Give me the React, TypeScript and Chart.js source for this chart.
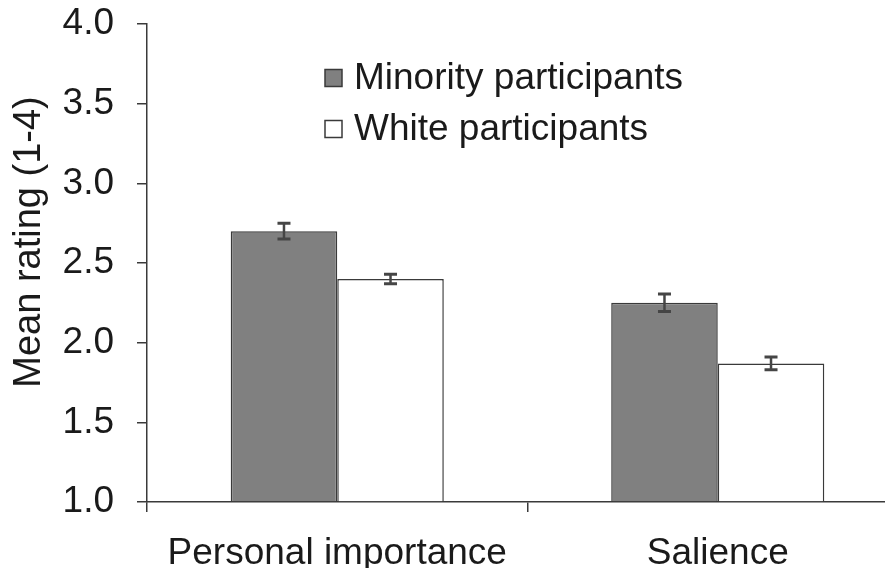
import React, { useEffect, useRef } from "react";
import { Chart, registerables } from "chart.js";

Chart.register(...registerables);

const categories = ["Personal importance", "Salience"];
const seriesLabels = ["Minority participants", "White participants"];
const minorityValues = [2.7, 2.25];
const whiteValues = [2.4, 1.87];
const minorityErrors = [0.05, 0.055];
const whiteErrors = [0.03, 0.04];
const yTickValues = [1.0, 1.5, 2.0, 2.5, 3.0, 3.5, 4.0];
const yTitle = "Mean rating (1-4)";

const FONT = "'Liberation Sans', Arial, Helvetica, sans-serif";
const DARK = "#3a3a3a";
const TEXT = "#1a1a1a";
const FS = 37;

const errorBarPlugin = {
  id: "errorBars",
  afterDatasetsDraw(chart: any) {
    const ctx = chart.ctx;
    const yScale = chart.scales.y;
    const errs = [minorityErrors, whiteErrors];
    chart.data.datasets.forEach((ds: any, di: number) => {
      const meta = chart.getDatasetMeta(di);
      meta.data.forEach((bar: any, i: number) => {
        const v = ds.data[i];
        const e = errs[di][i];
        const x = bar.x;
        const yTop = yScale.getPixelForValue(v + e);
        const yBot = yScale.getPixelForValue(v - e);
        ctx.save();
        ctx.strokeStyle = "#454545";
        ctx.lineWidth = 2.5;
        ctx.beginPath();
        ctx.moveTo(x, yTop);
        ctx.lineTo(x, yBot);
        ctx.stroke();
        ctx.lineWidth = 3;
        ctx.beginPath();
        ctx.moveTo(x - 6.5, yTop);
        ctx.lineTo(x + 6.5, yTop);
        ctx.moveTo(x - 6.5, yBot);
        ctx.lineTo(x + 6.5, yBot);
        ctx.stroke();
        ctx.restore();
      });
    });
  },
};

const customTextPlugin = {
  id: "customText",
  afterDraw(chart: any) {
    const ctx = chart.ctx;
    ctx.save();
    // y-axis title
    ctx.fillStyle = TEXT;
    ctx.font = `38px ${FONT}`;
    ctx.textAlign = "center";
    ctx.textBaseline = "middle";
    ctx.translate(22, 234);
    ctx.rotate(-Math.PI / 2);
    ctx.fillText(yTitle, 0, 0);
    ctx.restore();

    // legend
    ctx.save();
    const rows = [70, 121];
    chart.data.datasets.forEach((ds: any, i: number) => {
      const cy = rows[i];
      ctx.fillStyle = ds.backgroundColor;
      ctx.fillRect(317, cy - 8.5, 17, 17);
      ctx.strokeStyle = DARK;
      ctx.lineWidth = 1.5;
      ctx.strokeRect(317, cy - 8.5, 17, 17);
      ctx.fillStyle = TEXT;
      ctx.font = `${FS}px ${FONT}`;
      ctx.textAlign = "left";
      ctx.textBaseline = "middle";
      ctx.fillText(ds.label, 346, cy + 1);
    });
    ctx.restore();
  },
};

export default function App() {
  const ref = useRef<HTMLCanvasElement | null>(null);
  useEffect(() => {
    if (!ref.current) return;
    const chart = new Chart(ref.current, {
      type: "bar",
      data: {
        labels: categories,
        datasets: [
          {
            label: seriesLabels[0],
            data: minorityValues,
            backgroundColor: "#808080",
            borderColor: DARK,
            borderWidth: 1.5,
            base: 1,
          },
          {
            label: seriesLabels[1],
            data: whiteValues,
            backgroundColor: "#ffffff",
            borderColor: DARK,
            borderWidth: 1.5,
            base: 1,
          },
        ],
      } as any,
      options: {
        responsive: false,
        animation: false,
        devicePixelRatio: 1,
        layout: { padding: { top: 16, right: 0, left: 0, bottom: 0 } },
        datasets: {
          bar: { categoryPercentage: 0.56, barPercentage: 1 },
        } as any,
        plugins: {
          legend: { display: false },
          tooltip: { enabled: false },
        },
        scales: {
          x: {
            type: "category",
            offset: true,
            grid: {
              offset: true,
              drawOnChartArea: false,
              drawTicks: true,
              tickLength: 10,
              color: DARK,
              lineWidth: 1.5,
            },
            border: { color: DARK, width: 1.5 },
            ticks: {
              color: TEXT,
              font: { family: FONT, size: FS },
              padding: 20,
              maxRotation: 0,
            },
            afterFit(scale: any) {
              scale.height = 66;
              scale.paddingLeft = 0;
              scale.paddingRight = 0;
            },
          },
          y: {
            min: 1,
            max: 4,
            afterBuildTicks(scale: any) {
              scale.ticks = yTickValues.map((v) => ({ value: v }));
            },
            grid: {
              drawOnChartArea: false,
              drawTicks: true,
              tickLength: 10,
              color: DARK,
              lineWidth: 1.5,
            },
            border: { color: DARK, width: 1.5 },
            ticks: {
              color: TEXT,
              font: { family: FONT, size: FS },
              padding: 23,
              callback: (v: any) => Number(v).toFixed(1),
            },
            afterFit(scale: any) {
              scale.width = 139;
              scale.paddingTop = 0;
              scale.paddingBottom = 0;
            },
          },
        },
      } as any,
      plugins: [errorBarPlugin, customTextPlugin],
    });
    return () => chart.destroy();
  }, []);
  return (
    <div style={{ width: 885, height: 560, overflow: "hidden" }}>
      <canvas ref={ref} width={900} height={560} style={{ display: "block" }} />
    </div>
  );
}
